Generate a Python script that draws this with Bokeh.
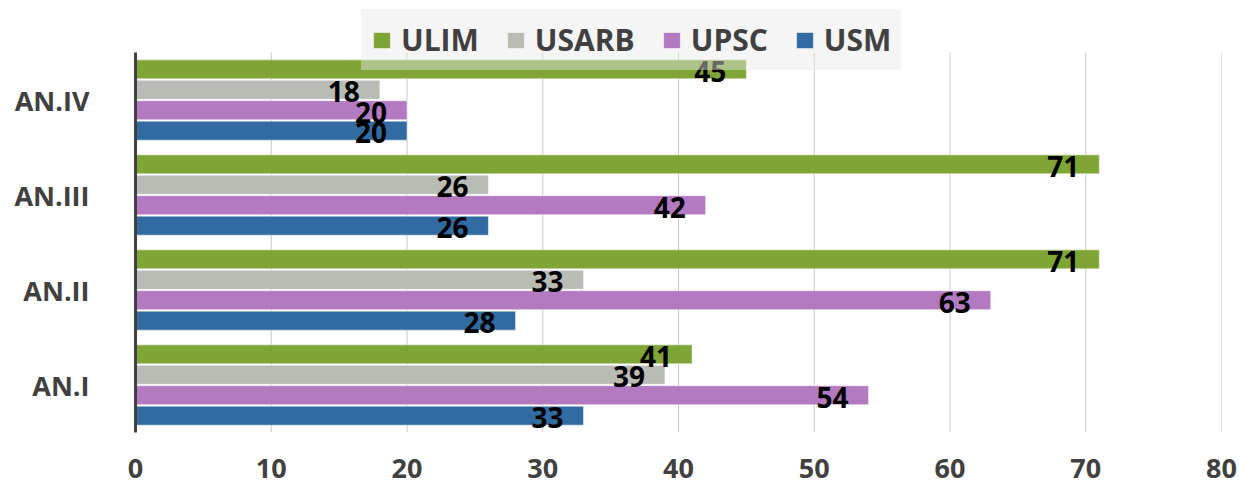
import numpy as np
from bokeh.plotting import figure
from bokeh.models import ColumnDataSource, Range1d, FixedTicker, Legend, LegendItem
from bokeh.transform import dodge
from bokeh.embed import file_html
from bokeh.resources import INLINE
from bokeh.core.properties import value

categories = ["AN.I", "AN.II", "AN.III", "AN.IV"]
series = ["ULIM", "USARB", "UPSC", "USM"]
ulim = [41, 71, 71, 45]
usarb = [39, 33, 26, 18]
upsc = [54, 63, 42, 20]
usm = [33, 28, 26, 20]
x_ticks = [0, 10, 20, 30, 40, 50, 60, 70, 80]

colors = {"ULIM": "#77A02B", "USARB": "#B5B8B0", "UPSC": "#AF73BF", "USM": "#27629D"}
offsets = {"ULIM": 0.3225, "USARB": 0.1075, "UPSC": -0.1075, "USM": -0.3225}
values = {"ULIM": ulim, "USARB": usarb, "UPSC": upsc, "USM": usm}

FONT = "Open Sans"
pos = list(range(len(categories)))
n = len(categories)

W, H = 1240, 488
LEFT, RIGHT, TOP, BOTTOM = 135, 19, 0, 56
frame_h = H - TOP - BOTTOM
unit_px = (frame_h - 52) / n
y_top = n - 0.5 + 52 / unit_px

p = figure(width=W, height=H, output_backend="svg", toolbar_location=None,
           x_range=Range1d(0, 80), y_range=Range1d(-0.5, y_top),
           min_border_left=LEFT, min_border_right=RIGHT,
           min_border_top=TOP, min_border_bottom=BOTTOM)
p.outline_line_color = None
p.xgrid.grid_line_color = None
p.ygrid.grid_line_color = None

grid_src = ColumnDataSource(dict(x=x_ticks[1:]))
p.segment(x0="x", x1="x", y0=-0.5, y1=n - 0.5, source=grid_src,
          line_color="#C8C8C8", line_width=1, level="underlay")

renderers = {}
for s in series:
    src = ColumnDataSource(dict(pos=pos, v=values[s], lbl=[str(v) for v in values[s]]))
    r = p.hbar(y=dodge("pos", offsets[s]), right="v", left=0, height=0.2,
               source=src, fill_color=colors[s], fill_alpha=0.95,
               line_color="#FFFFFF", line_alpha=0.5, line_width=1)
    renderers[s] = (r, src)

for s in series:
    r, src = renderers[s]
    p.text(x="v", y=dodge("pos", offsets[s]), text="lbl", source=src,
           x_offset=-20, y_offset=2, text_align="right", text_baseline="middle",
           text_font=value(FONT), text_font_style="bold", text_font_size="28px",
           text_color="#000000")

p.xaxis.ticker = FixedTicker(ticks=x_ticks)
p.xaxis.axis_line_color = None
p.xaxis.major_tick_line_color = None
p.xaxis.minor_tick_line_color = None
p.xaxis.major_label_standoff = 20
p.xaxis.major_label_text_font = FONT
p.xaxis.major_label_text_font_style = "bold"
p.xaxis.major_label_text_font_size = "27px"
p.xaxis.major_label_text_color = "#404040"

p.yaxis.ticker = FixedTicker(ticks=pos)
p.yaxis.major_label_overrides = {i: c for i, c in zip(pos, categories)}
p.yaxis.bounds = (-0.5, n - 0.5)
p.yaxis.axis_line_color = "#404040"
p.yaxis.axis_line_width = 3
p.yaxis.major_tick_line_color = None
p.yaxis.minor_tick_line_color = None
p.yaxis.major_label_standoff = 40
p.yaxis.major_label_text_font = FONT
p.yaxis.major_label_text_font_style = "bold"
p.yaxis.major_label_text_font_size = "27px"
p.yaxis.major_label_text_color = "#404040"

legend = Legend(items=[LegendItem(label=s, renderers=[renderers[s][0]]) for s in series],
                orientation="horizontal", location=(226, 362),
                glyph_width=21, glyph_height=20, label_standoff=9, spacing=26,
                padding=10, margin=0, label_height=40,
                label_text_font=FONT, label_text_font_style="bold",
                label_text_font_size="30px", label_text_color="#404040",
                background_fill_color="#E8E8E8", background_fill_alpha=0.45,
                border_line_color="#F5F5F5", border_line_alpha=0.0)
p.add_layout(legend, "center")

open("out.html", "w").write(file_html(p, INLINE))
